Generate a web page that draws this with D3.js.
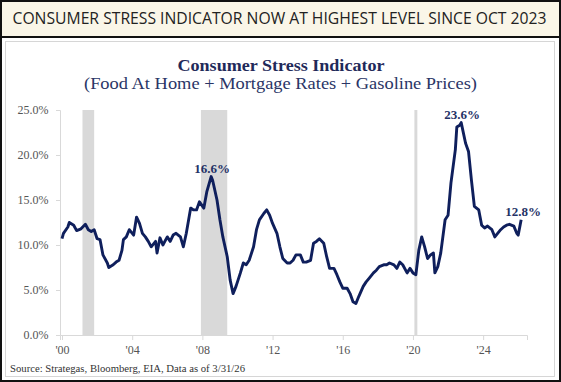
<!DOCTYPE html>
<html><head><meta charset="utf-8">
<script src="https://cdn.jsdelivr.net/npm/d3@7"></script>
<style>html,body{margin:0;padding:0;background:#fff;}svg{display:block;}</style>
</head><body>
<svg id="c" width="561" height="382"></svg>
<script>
// ---------- data ----------
const dates = ["2000-01","2000-02","2000-05","2000-06","2000-09","2000-11","2001-02","2001-05","2001-07","2001-09","2001-11","2002-01","2002-03","2002-05","2002-08","2002-09","2002-12","2003-02","2003-04","2003-06","2003-07","2003-09","2003-11","2004-02","2004-04","2004-06","2004-08","2004-10","2004-12","2005-02","2005-05","2005-06","2005-08","2005-10","2006-01","2006-03","2006-05","2006-07","2006-10","2006-12","2007-02","2007-05","2007-07","2007-09","2007-11","2008-02","2008-04","2008-07","2008-08","2008-11","2009-01","2009-03","2009-06","2009-08","2009-10","2009-12","2010-03","2010-05","2010-07","2010-09","2010-12","2011-02","2011-04","2011-07","2011-09","2011-11","2012-01","2012-04","2012-06","2012-08","2012-11","2013-01","2013-03","2013-05","2013-08","2013-10","2013-12","2014-03","2014-05","2014-07","2014-09","2014-12","2015-02","2015-04","2015-07","2015-09","2015-11","2016-01","2016-04","2016-06","2016-08","2016-10","2016-12","2017-03","2017-05","2017-07","2017-10","2017-12","2018-02","2018-05","2018-07","2018-09","2018-12","2019-02","2019-04","2019-06","2019-09","2019-11","2020-01","2020-03","2020-05","2020-07","2020-09","2020-11","2021-01","2021-03","2021-04","2021-06","2021-08","2021-11","2022-01","2022-03","2022-06","2022-07","2022-09","2022-10","2023-01","2023-03","2023-05","2023-07","2023-10","2023-12","2024-02","2024-04","2024-07","2024-09","2025-01","2025-03","2025-05","2025-07","2025-10","2025-12","2026-01","2026-03"];
const values = [10.7,11.3,12.0,12.5,12.2,11.6,11.8,12.3,11.7,11.5,11.7,10.7,10.6,8.9,8.0,7.5,7.8,8.1,8.3,9.4,10.6,10.9,11.7,11.1,13.1,12.4,11.3,10.9,10.4,9.8,10.4,9.1,10.8,10.0,10.9,10.4,11.1,11.3,10.9,9.8,11.3,14.1,13.9,13.9,14.8,14.1,15.9,17.6,17.2,15.0,12.8,10.9,8.7,6.1,4.6,5.4,6.9,8.0,7.8,8.3,9.8,11.7,12.8,13.5,13.9,13.3,12.4,11.3,9.8,8.5,8.0,8.0,8.3,8.9,8.9,8.1,8.1,8.3,10.2,10.4,10.7,10.2,8.7,7.4,7.4,6.7,5.9,5.2,5.2,4.6,3.7,3.5,4.3,5.4,5.9,6.3,6.9,7.2,7.6,7.8,7.8,8.0,7.8,7.4,8.1,7.8,6.9,7.4,6.9,6.7,9.4,10.9,9.8,8.5,8.9,9.1,6.9,7.6,9.1,12.8,13.3,16.9,20.6,23.1,23.3,23.6,21.3,20.4,17.2,14.3,13.9,12.2,11.9,12.1,11.7,10.9,11.7,12.0,12.2,12.3,12.1,11.3,11.1,12.8];
const recessionStart = ["2001-03","2007-12","2020-02"];
const recessionEnd   = ["2001-11","2009-06","2020-04"];
const yTicks = [0,5,10,15,20,25];
const xTicks = [2000,2004,2008,2012,2016,2020,2024];
const annoDates  = ["2008-07","2022-10","2026-03"];
const annoLabels = ["16.6%","23.6%","12.8%"];
const annoValues = [17.6,23.6,12.8];
const bannerText = "CONSUMER STRESS INDICATOR NOW AT HIGHEST LEVEL SINCE OCT 2023";
const chartTitle = "Consumer Stress Indicator";
const chartSubtitle = "(Food At Home + Mortgage Rates + Gasoline Prices)";
const sourceText = "Source: Strategas, Bloomberg, EIA, Data as of 3/31/26";

// ---------- helpers ----------
const toYear = s => { const [y,m] = s.split("-").map(Number); return y + (m-1)/12; };
const serif = "'Liberation Serif','Times New Roman',serif";
const navy = "#0f1f5c";

const svg = d3.select("#c");
// frame
svg.append("rect").attr("x",0).attr("y",0).attr("width",561).attr("height",382).attr("fill","#fff");
svg.append("rect").attr("x",0).attr("y",0).attr("width",561).attr("height",37).attr("fill","#faf6e8");
svg.append("rect").attr("x",5.5).attr("y",41.5).attr("width",549).attr("height",335).attr("fill","none").attr("stroke","#d6d6d6").attr("stroke-width",1);
svg.append("line").attr("x1",0).attr("x2",561).attr("y1",37).attr("y2",37).attr("stroke","#111").attr("stroke-width",2);
svg.append("rect").attr("x",1).attr("y",1).attr("width",559).attr("height",380).attr("fill","none").attr("stroke","#111").attr("stroke-width",2);

svg.append("text").attr("x",12.5).attr("y",24).attr("font-family","'Open Sans','Noto Sans',sans-serif")
  .attr("font-size",16).attr("fill","#222").attr("textLength",534).attr("lengthAdjust","spacingAndGlyphs").text(bannerText);

svg.append("text").attr("x",281).attr("y",70.5).attr("text-anchor","middle").attr("font-family",serif)
  .attr("font-weight","bold").attr("font-size",17).attr("fill","#1f2a5a").attr("textLength",207).attr("lengthAdjust","spacingAndGlyphs").text(chartTitle);
svg.append("text").attr("x",280.5).attr("y",88.5).attr("text-anchor","middle").attr("font-family",serif)
  .attr("font-size",17).attr("fill","#2a3566").attr("textLength",393).attr("lengthAdjust","spacingAndGlyphs").text(chartSubtitle);

// scales
const x = d3.scaleLinear().domain([2000 - 2/17.55, 2026.5]).range([60, 527]);
const y = d3.scaleLinear().domain([0, 25]).range([335, 110]);

// recession bars
svg.append("g").selectAll("rect").data(recessionStart).join("rect")
  .attr("x", (d,i) => x(toYear(d)))
  .attr("width", (d,i) => x(toYear(recessionEnd[i])) - x(toYear(d)))
  .attr("y", y(25)).attr("height", y(0) - y(25)).attr("fill","#d9d9d9");

// axes
const yAxis = svg.append("g").attr("transform","translate(60,0)")
  .call(d3.axisLeft(y).tickValues(yTicks).tickSize(4).tickPadding(7.5).tickFormat(d => d.toFixed(1) + "%"));
const xAxis = svg.append("g").attr("transform","translate(0,335)")
  .call(d3.axisBottom(x).tickValues(xTicks).tickSize(5).tickPadding(5.5).tickFormat(d => "'" + String(d).slice(2)));
[yAxis, xAxis].forEach(g => {
  g.select(".domain").attr("stroke","#d9d9d9");
  g.selectAll(".tick line").attr("stroke","#d9d9d9");
  g.selectAll(".tick text").attr("fill","#555").attr("font-family",serif).attr("font-size",12);
});

// line
const pts = dates.map((d,i) => [toYear(d), values[i]]);
svg.append("path").datum(pts)
  .attr("fill","none").attr("stroke",navy).attr("stroke-width",2.9).attr("stroke-linejoin","round")
  .attr("d", d3.line().x(d => x(d[0])).y(d => y(d[1])));

// annotations
svg.append("g").selectAll("text").data(annoLabels).join("text")
  .attr("x",(d,i) => x(toYear(annoDates[i])) + (i===2 ? 2 : 1))
  .attr("y",(d,i) => y(annoValues[i]) - 4)
  .attr("text-anchor","middle").attr("font-family",serif).attr("font-weight","bold")
  .attr("font-size",13).attr("fill","#243266").text(d => d);

// source
svg.append("text").attr("x",10).attr("y",372).attr("font-family",serif).attr("font-size",10.5)
  .attr("fill","#333").attr("textLength",235).attr("lengthAdjust","spacingAndGlyphs").text(sourceText);
</script>
</body></html>
